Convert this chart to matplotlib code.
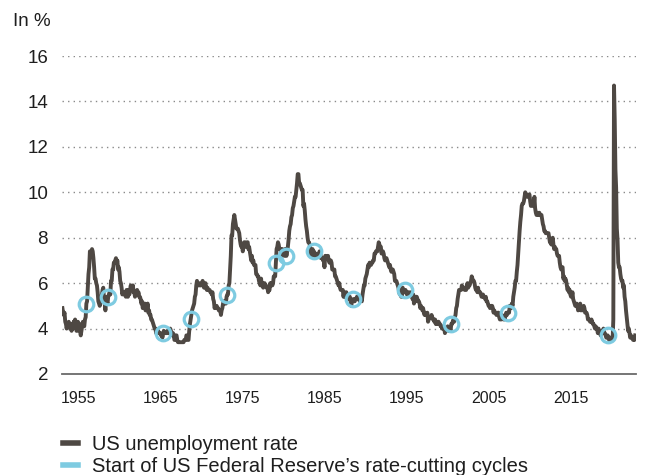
import numpy as np
import matplotlib
matplotlib.use('Agg')
import matplotlib.pyplot as plt
from matplotlib.lines import Line2D

plt.rcParams['font.family'] = ['Liberation Sans', 'DejaVu Sans']

# monthly US unemployment rate in %, Jan 1955 onwards, one row per year
unemployment = [
    4.9, 4.7, 4.6, 4.7, 4.3, 4.2, 4.0, 4.2, 4.1, 4.3, 4.2, 4.2,   # 1955
    4.0, 3.9, 4.2, 4.0, 4.3, 4.3, 4.4, 4.1, 3.9, 3.9, 4.3, 4.2,   # 1956
    4.2, 3.9, 3.7, 3.9, 4.1, 4.3, 4.2, 4.1, 4.4, 4.5, 5.1, 5.2,   # 1957
    5.8, 6.4, 6.7, 7.4, 7.4, 7.3, 7.5, 7.4, 7.1, 6.7, 6.2, 6.2,   # 1958
    6.0, 5.9, 5.6, 5.2, 5.1, 5.0, 5.1, 5.2, 5.5, 5.7, 5.8, 5.3,   # 1959
    5.2, 4.8, 5.4, 5.2, 5.1, 5.4, 5.5, 5.6, 5.5, 6.1, 6.1, 6.6,   # 1960
    6.6, 6.9, 6.9, 7.0, 7.1, 6.9, 7.0, 6.6, 6.7, 6.5, 6.1, 6.0,   # 1961
    5.8, 5.5, 5.6, 5.6, 5.5, 5.5, 5.4, 5.7, 5.6, 5.4, 5.7, 5.5,   # 1962
    5.7, 5.9, 5.7, 5.7, 5.9, 5.6, 5.6, 5.4, 5.5, 5.5, 5.7, 5.5,   # 1963
    5.6, 5.4, 5.4, 5.3, 5.1, 5.2, 4.9, 5.0, 5.1, 5.1, 4.8, 5.0,   # 1964
    4.9, 5.1, 4.7, 4.8, 4.6, 4.6, 4.4, 4.4, 4.3, 4.2, 4.1, 4.0,   # 1965
    4.0, 3.8, 3.8, 3.8, 3.9, 3.8, 3.8, 3.8, 3.7, 3.7, 3.6, 3.8,   # 1966
    3.9, 3.8, 3.8, 3.8, 3.8, 3.9, 3.8, 3.8, 3.8, 4.0, 3.9, 3.8,   # 1967
    3.7, 3.8, 3.7, 3.5, 3.5, 3.7, 3.7, 3.5, 3.4, 3.4, 3.4, 3.4,   # 1968
    3.4, 3.4, 3.4, 3.4, 3.4, 3.5, 3.5, 3.5, 3.7, 3.7, 3.5, 3.5,   # 1969
    3.9, 4.2, 4.4, 4.6, 4.8, 4.9, 5.0, 5.1, 5.4, 5.5, 5.9, 6.1,   # 1970
    5.9, 5.9, 6.0, 5.9, 5.9, 5.9, 6.0, 6.1, 6.0, 5.8, 6.0, 6.0,   # 1971
    5.8, 5.7, 5.8, 5.7, 5.7, 5.7, 5.6, 5.6, 5.5, 5.6, 5.3, 5.2,   # 1972
    4.9, 5.0, 4.9, 5.0, 4.9, 4.9, 4.8, 4.8, 4.8, 4.6, 4.8, 4.9,   # 1973
    5.1, 5.2, 5.1, 5.1, 5.1, 5.4, 5.5, 5.5, 5.9, 6.0, 6.6, 7.2,   # 1974
    8.1, 8.1, 8.6, 8.8, 9.0, 8.8, 8.6, 8.4, 8.4, 8.4, 8.3, 8.2,   # 1975
    7.9, 7.7, 7.6, 7.7, 7.4, 7.6, 7.8, 7.8, 7.6, 7.7, 7.8, 7.8,   # 1976
    7.5, 7.6, 7.4, 7.2, 7.0, 7.2, 6.9, 7.0, 6.8, 6.8, 6.8, 6.4,   # 1977
    6.4, 6.3, 6.3, 6.1, 6.0, 5.9, 6.2, 5.9, 6.0, 5.8, 5.9, 6.0,   # 1978
    5.9, 5.9, 5.8, 5.8, 5.6, 5.7, 5.7, 6.0, 5.9, 6.0, 5.9, 6.0,   # 1979
    6.3, 6.3, 6.3, 6.9, 7.5, 7.6, 7.8, 7.7, 7.5, 7.5, 7.5, 7.2,   # 1980
    7.5, 7.4, 7.4, 7.2, 7.5, 7.5, 7.2, 7.4, 7.6, 7.9, 8.3, 8.5,   # 1981
    8.6, 8.9, 9.0, 9.3, 9.4, 9.6, 9.8, 9.8, 10.1, 10.4, 10.8, 10.8,   # 1982
    10.4, 10.4, 10.3, 10.2, 10.1, 10.1, 9.4, 9.5, 9.2, 8.8, 8.5, 8.3,   # 1983
    8.0, 7.8, 7.8, 7.7, 7.4, 7.2, 7.5, 7.5, 7.3, 7.4, 7.2, 7.3,   # 1984
    7.3, 7.2, 7.2, 7.3, 7.2, 7.4, 7.4, 7.1, 7.1, 7.1, 7.0, 7.0,   # 1985
    6.7, 7.2, 7.2, 7.1, 7.2, 7.2, 7.0, 6.9, 7.0, 7.0, 6.9, 6.6,   # 1986
    6.6, 6.6, 6.6, 6.3, 6.3, 6.2, 6.1, 6.0, 5.9, 6.0, 5.8, 5.7,   # 1987
    5.7, 5.7, 5.7, 5.4, 5.6, 5.4, 5.4, 5.6, 5.4, 5.4, 5.3, 5.3,   # 1988
    5.4, 5.2, 5.0, 5.2, 5.2, 5.3, 5.2, 5.2, 5.3, 5.3, 5.4, 5.4,   # 1989
    5.4, 5.3, 5.2, 5.4, 5.4, 5.2, 5.5, 5.7, 5.9, 5.9, 6.2, 6.3,   # 1990
    6.4, 6.6, 6.8, 6.7, 6.9, 6.9, 6.8, 6.9, 6.9, 7.0, 7.0, 7.3,   # 1991
    7.3, 7.4, 7.4, 7.4, 7.6, 7.8, 7.7, 7.6, 7.6, 7.3, 7.4, 7.4,   # 1992
    7.3, 7.1, 7.0, 7.1, 7.1, 7.0, 6.9, 6.8, 6.7, 6.8, 6.6, 6.5,   # 1993
    6.6, 6.6, 6.5, 6.4, 6.1, 6.1, 6.1, 6.0, 5.9, 5.8, 5.6, 5.5,   # 1994
    5.6, 5.4, 5.4, 5.8, 5.6, 5.6, 5.7, 5.7, 5.6, 5.5, 5.6, 5.6,   # 1995
    5.6, 5.5, 5.5, 5.6, 5.6, 5.3, 5.5, 5.1, 5.2, 5.2, 5.4, 5.4,   # 1996
    5.3, 5.2, 5.2, 5.1, 4.9, 5.0, 4.9, 4.8, 4.9, 4.7, 4.6, 4.7,   # 1997
    4.6, 4.6, 4.7, 4.3, 4.4, 4.5, 4.5, 4.5, 4.6, 4.5, 4.4, 4.4,   # 1998
    4.3, 4.4, 4.2, 4.3, 4.2, 4.3, 4.3, 4.2, 4.2, 4.1, 4.1, 4.0,   # 1999
    4.0, 4.1, 4.0, 3.8, 4.0, 4.0, 4.0, 4.1, 3.9, 3.9, 3.9, 3.9,   # 2000
    4.2, 4.2, 4.3, 4.4, 4.3, 4.5, 4.6, 4.9, 5.0, 5.3, 5.5, 5.7,   # 2001
    5.7, 5.7, 5.7, 5.9, 5.8, 5.8, 5.8, 5.7, 5.7, 5.7, 5.9, 6.0,   # 2002
    5.8, 5.9, 5.9, 6.0, 6.1, 6.3, 6.2, 6.1, 6.1, 6.0, 5.8, 5.7,   # 2003
    5.7, 5.6, 5.8, 5.6, 5.6, 5.6, 5.5, 5.4, 5.4, 5.5, 5.4, 5.4,   # 2004
    5.3, 5.4, 5.2, 5.2, 5.1, 5.0, 5.0, 4.9, 5.0, 5.0, 5.0, 4.9,   # 2005
    4.7, 4.8, 4.7, 4.7, 4.6, 4.6, 4.7, 4.7, 4.5, 4.4, 4.5, 4.4,   # 2006
    4.6, 4.5, 4.4, 4.5, 4.4, 4.6, 4.7, 4.6, 4.7, 4.7, 4.7, 5.0,   # 2007
    5.0, 4.9, 5.1, 5.0, 5.4, 5.6, 5.8, 6.1, 6.1, 6.5, 6.8, 7.3,   # 2008
    7.8, 8.3, 8.7, 9.0, 9.4, 9.5, 9.5, 9.6, 9.8, 10.0, 9.9, 9.9,   # 2009
    9.8, 9.8, 9.9, 9.9, 9.6, 9.4, 9.4, 9.5, 9.5, 9.4, 9.8, 9.3,   # 2010
    9.1, 9.0, 9.0, 9.1, 9.0, 9.1, 9.0, 9.0, 9.0, 8.8, 8.6, 8.5,   # 2011
    8.3, 8.3, 8.2, 8.2, 8.2, 8.2, 8.2, 8.0, 7.8, 7.8, 7.7, 7.9,   # 2012
    8.0, 7.7, 7.5, 7.6, 7.5, 7.5, 7.3, 7.2, 7.2, 7.2, 6.9, 6.7,   # 2013
    6.6, 6.7, 6.7, 6.2, 6.3, 6.1, 6.2, 6.1, 5.9, 5.7, 5.8, 5.6,   # 2014
    5.7, 5.5, 5.4, 5.4, 5.6, 5.3, 5.2, 5.1, 5.0, 5.0, 5.1, 5.0,   # 2015
    4.8, 4.9, 5.0, 5.1, 4.8, 4.9, 4.8, 4.9, 5.0, 4.9, 4.7, 4.7,   # 2016
    4.7, 4.6, 4.4, 4.4, 4.4, 4.3, 4.3, 4.4, 4.3, 4.2, 4.2, 4.1,   # 2017
    4.0, 4.1, 4.0, 4.0, 3.8, 4.0, 3.8, 3.8, 3.7, 3.8, 3.8, 3.9,   # 2018
    4.0, 3.8, 3.8, 3.7, 3.6, 3.6, 3.7, 3.6, 3.5, 3.6, 3.6, 3.6,   # 2019
    3.5, 3.5, 4.4, 14.7, 13.2, 11.0, 10.2, 8.4, 7.9, 6.9, 6.7, 6.7,   # 2020
    6.4, 6.2, 6.1, 6.1, 5.8, 5.9, 5.4, 5.2, 4.8, 4.5, 4.2, 3.9,   # 2021
    4.0, 3.8, 3.6, 3.7, 3.6, 3.6, 3.5, 3.6, 3.5, 3.7,             # 2022
]
start_year = 1955

# months in which the Fed started a rate-cutting cycle
cut_months = ['1957-11', '1960-06', '1966-12', '1970-03', '1974-07', '1980-04',
              '1981-07', '1984-10', '1989-06', '1995-07', '2001-01', '2007-09',
              '2019-07']

year_labels = ['1955', '1965', '1975', '1985', '1995', '2005', '2015']
y_ticks = [2, 4, 6, 8, 10, 12, 14, 16]

rate = np.array(unemployment)
t = start_year + np.arange(len(rate)) / 12.0

idx = [(int(m[:4]) - start_year) * 12 + int(m[5:]) - 1 for m in cut_months]

line_col = '#4e4843'
ring_col = '#7ecbe1'
text_col = '#1e1e1e'

fig = plt.figure(figsize=(6.46, 4.75), dpi=100)
ax = fig.add_axes([62 / 646, 1 - 374 / 475, (636 - 62) / 646, (374 - 56) / 475])

ax.plot(t, rate, color=line_col, lw=2.8, solid_joinstyle='round', zorder=3)
ax.plot(t[idx], rate[idx], 'o', ms=10.5, mfc='none', mec=ring_col, mew=2.3, zorder=4)

ax.set_xlim(1954.95, 2022.85)
ax.set_ylim(2, 16)

for v in y_ticks[1:]:
    ax.axhline(v, color='#8a8a8a', lw=1.0, ls=(0, (1, 3)), zorder=1)

for s in ['top', 'right', 'left']:
    ax.spines[s].set_visible(False)
ax.spines['bottom'].set_color('#6a6a6a')
ax.spines['bottom'].set_linewidth(1.3)

ax.set_yticks(y_ticks)
ax.set_yticklabels([str(v) for v in y_ticks])
ax.set_xticks(np.linspace(1956.95, 2015.15, len(year_labels)))
ax.set_xticklabels(year_labels)
ax.tick_params(axis='y', length=0, pad=10, labelsize=13.5, labelcolor=text_col)
ax.tick_params(axis='x', length=0, pad=12, labelsize=11.5, labelcolor=text_col)

fig.text(13 / 646, 1 - 21 / 475, 'In %', fontsize=13.5, color=text_col,
         ha='left', va='center')

handles = [Line2D([], [], color=line_col, lw=4),
           Line2D([], [], color=ring_col, lw=4)]
fig.legend(handles, ['US unemployment rate',
                     "Start of US Federal Reserve\u2019s rate-cutting cycles"],
           loc='upper left', bbox_to_anchor=(63 / 646, 1 - 435 / 475),
           frameon=False, fontsize=14.5, handlelength=0.75, handletextpad=0.7,
           labelspacing=0.17, borderpad=0, borderaxespad=0, labelcolor=text_col)

plt.savefig('out.png', dpi=100)
plt.close('all')
